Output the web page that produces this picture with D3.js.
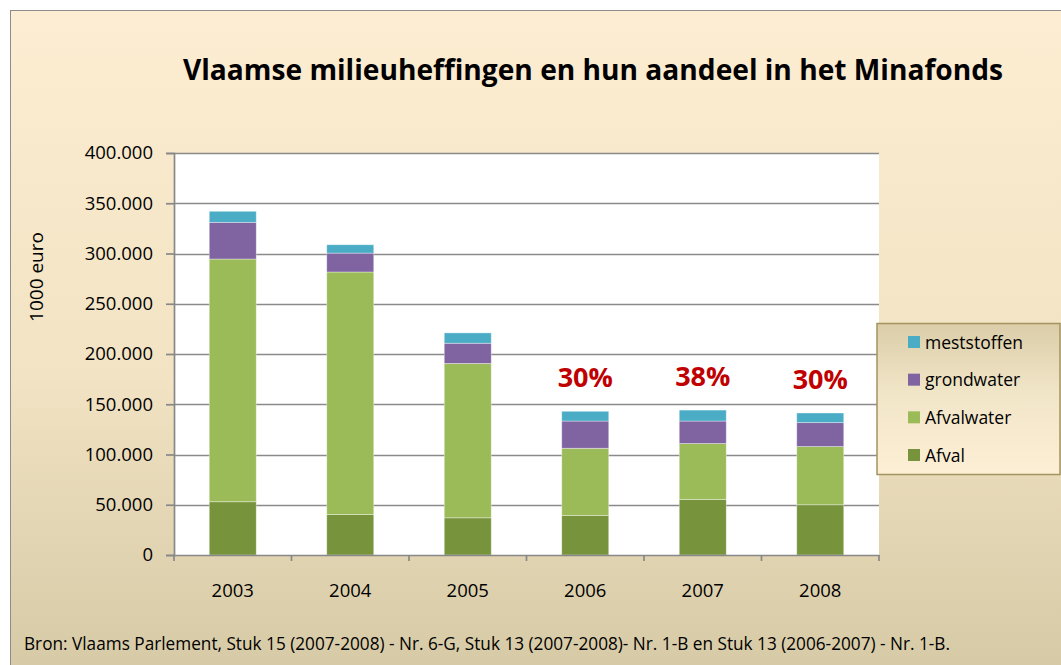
<!DOCTYPE html>
<meta charset="utf-8">
<head>
<script src="https://cdn.jsdelivr.net/npm/d3@7"></script>
<style>
  body { margin: 0; background: #fff; }
  text { font-family: "Open Sans", sans-serif; fill: #000; }
</style>
</head>
<body>
<div id="chart"></div>
<script>
// data (1000 euro)
var years = ["2003", "2004", "2005", "2006", "2007", "2008"];
var afval = [53000, 40400, 37000, 39400, 55300, 50000];
var afvalwater = [241500, 241200, 153600, 66800, 55600, 57900];
var grondwater = [36500, 18800, 20100, 27100, 22400, 23800];
var meststoffen = [11000, 8300, 10300, 9700, 10900, 9600];
var shares = ["", "", "", "30%", "38%", "30%"];
var seriesNames = ["Afval", "Afvalwater", "grondwater", "meststoffen"];
var seriesColors = ["#77933c", "#9bbb59", "#8064a2", "#4bacc6"];
var yTicks = [0, 50000, 100000, 150000, 200000, 250000, 300000, 350000, 400000];

var W = 1061, H = 665;
var plot = {left: 174, right: 879, top: 153, bottom: 555};

var svg = d3.select("#chart").append("svg")
    .attr("width", W).attr("height", H);

var defs = svg.append("defs");
var bg = defs.append("linearGradient").attr("id", "bg")
    .attr("x1", 0).attr("y1", 0).attr("x2", 0).attr("y2", 1);
bg.append("stop").attr("offset", "0%").attr("stop-color", "#fdedd2");
bg.append("stop").attr("offset", "55%").attr("stop-color", "#f1e3c3");
bg.append("stop").attr("offset", "100%").attr("stop-color", "#d6c9a5");
var lg = defs.append("linearGradient").attr("id", "lg")
    .attr("x1", 0).attr("y1", 0).attr("x2", 0).attr("y2", 1);
lg.append("stop").attr("offset", "0%").attr("stop-color", "#dbcda8");
lg.append("stop").attr("offset", "45%").attr("stop-color", "#f1e5c8");
lg.append("stop").attr("offset", "100%").attr("stop-color", "#fdefd5");

// chart frame
svg.append("rect")
    .attr("x", 10.5).attr("y", 10.5)
    .attr("width", W).attr("height", H)
    .attr("fill", "url(#bg)")
    .attr("stroke", "#8c8c8c").attr("stroke-width", 1);

svg.append("rect")
    .attr("x", plot.left).attr("y", plot.top)
    .attr("width", plot.right - plot.left).attr("height", plot.bottom - plot.top)
    .attr("fill", "#fff");

var x = d3.scaleBand().domain(years).range([plot.left, plot.right]).paddingInner(0.6).paddingOuter(0.3);
var y = d3.scaleLinear().domain([0, 400000]).range([plot.bottom, plot.top]);

var fmt = d3.formatLocale({decimal: ",", thousands: ".", grouping: [3], currency: ["€", ""]}).format(",d");

// gridlines
svg.append("g").selectAll("line")
    .data(yTicks.slice(1))
    .join("line")
    .attr("x1", plot.left).attr("x2", plot.right)
    .attr("y1", d => Math.round(y(d)) + 0.5).attr("y2", d => Math.round(y(d)) + 0.5)
    .attr("stroke", "#8a8a8a").attr("stroke-width", 1.7);

// stacked bars
var table = years.map((yr, i) => ({
  year: yr, Afval: afval[i], Afvalwater: afvalwater[i],
  grondwater: grondwater[i], meststoffen: meststoffen[i], share: shares[i]
}));
var stack = d3.stack().keys(seriesNames)(table);
var color = d3.scaleOrdinal().domain(seriesNames).range(seriesColors);

svg.append("g").selectAll("g")
    .data(stack)
    .join("g")
    .attr("fill", d => color(d.key))
    .selectAll("rect")
    .data(d => d)
    .join("rect")
    .attr("x", d => x(d.data.year))
    .attr("width", x.bandwidth())
    .attr("y", d => y(d[1]))
    .attr("height", d => y(d[0]) - y(d[1]))
    .attr("stroke", "rgba(255,255,255,0.45)")
    .attr("stroke-width", 0.8);

// y axis
var yAxis = svg.append("g")
    .attr("transform", "translate(" + plot.left + ",0)")
    .call(d3.axisLeft(y).tickValues(yTicks).tickFormat(fmt).tickSizeOuter(0).tickSize(8).tickPadding(13));
yAxis.select(".domain").attr("stroke", "#888").attr("stroke-width", 1.7);
yAxis.selectAll(".tick line").attr("stroke", "#888").attr("stroke-width", 1.7);
yAxis.selectAll(".tick text").style("font-size", "18.5px").style("font-family", "Open Sans").attr("fill", "#000");

// x axis
var xAxis = svg.append("g")
    .attr("transform", "translate(0," + plot.bottom + ")")
    .call(d3.axisBottom(x).tickSize(0).tickPadding(29));
xAxis.select(".domain").attr("stroke", "#888").attr("stroke-width", 1.7);
xAxis.selectAll(".tick text").style("font-size", "18.5px").style("font-family", "Open Sans").attr("fill", "#000");
var step = x.step();
svg.append("g").selectAll("line")
    .data(d3.range(years.length + 1))
    .join("line")
    .attr("x1", i => plot.left + i * step).attr("x2", i => plot.left + i * step)
    .attr("y1", plot.bottom).attr("y2", plot.bottom + 6)
    .attr("stroke", "#888").attr("stroke-width", 1.7);

// percentage labels
svg.append("g").selectAll("text")
    .data(table.filter(d => d.share))
    .join("text")
    .attr("x", d => x(d.year) + x.bandwidth() / 2)
    .attr("y", d => y(d.Afval + d.Afvalwater + d.grondwater + d.meststoffen) - 24)
    .attr("text-anchor", "middle")
    .style("font-size", "27px").style("font-weight", "bold")
    .style("fill", "#c00000")
    .text(d => d.share);

// title
svg.append("text")
    .attr("x", 593).attr("y", 80)
    .attr("text-anchor", "middle")
    .attr("textLength", 820).attr("lengthAdjust", "spacingAndGlyphs")
    .style("font-size", "28px").style("font-weight", "bold")
    .text("Vlaamse milieuheffingen en hun aandeel in het Minafonds");

// y axis title
svg.append("text")
    .attr("transform", "translate(43,277) rotate(-90)")
    .attr("text-anchor", "middle")
    .style("font-size", "19px")
    .text("1000 euro");

// source
svg.append("text")
    .attr("x", 24).attr("y", 650)
    .attr("textLength", 926).attr("lengthAdjust", "spacingAndGlyphs")
    .style("font-size", "17.5px")
    .text("Bron: Vlaams Parlement, Stuk 15 (2007-2008) - Nr. 6-G, Stuk 13 (2007-2008)- Nr. 1-B en Stuk 13 (2006-2007) - Nr. 1-B.");

// legend
var legend = svg.append("g");
legend.append("rect")
    .attr("x", 877).attr("y", 323.5)
    .attr("width", 183).attr("height", 151)
    .attr("fill", "url(#lg)")
    .attr("stroke", "#a3945f").attr("stroke-width", 1.5);
var legendItems = seriesNames.slice().reverse();
var ly = d3.scalePoint().domain(legendItems).range([342, 455]);
var li = legend.selectAll("g.item")
    .data(legendItems)
    .join("g").attr("class", "item")
    .attr("transform", d => "translate(908," + ly(d) + ")");
li.append("rect")
    .attr("x", 0).attr("y", -6)
    .attr("width", 12).attr("height", 12)
    .attr("fill", d => color(d));
li.append("text")
    .attr("x", 17).attr("y", 6.5)
    .style("font-size", "17.5px")
    .text(d => d);
</script>
</body>
</html>
